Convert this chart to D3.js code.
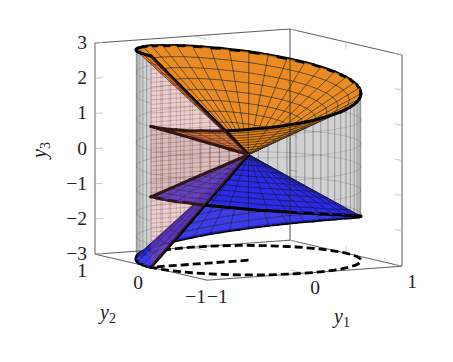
<!DOCTYPE html>
<html>
<head>
<meta charset="utf-8">
<script src="https://d3js.org/d3.v7.min.js"></script>
<style>
  html, body { margin: 0; padding: 0; background: #fff; }
  text { font-family: "Liberation Serif", serif; fill: #222; }
</style>
</head>
<body>
<div id="chart-container"></div>
<script>
// --- 1. DATA ---
const angles = d3.range(-180, 181, 5); // polar angle of (y1, y2), degrees
// height of the upper sheet on the unit circle, one value per angle
const rimHeights = [
  1.00, 1.00, 1.00, 1.01, 1.02, 1.02, 1.03, 1.05, 1.06, 1.07, 1.09, 1.11, 1.13,
  1.16, 1.18, 1.20, 1.23, 1.26, 1.29, 1.32, 1.36, 1.39, 1.43, 1.46, 1.50, 1.54,
  1.58, 1.62, 1.66, 1.70, 1.74, 1.78, 1.83, 1.87, 1.91, 1.96, 2.00, 2.04, 2.09,
  2.13, 2.17, 2.22, 2.26, 2.30, 2.34, 2.38, 2.42, 2.46, 2.50, 2.54, 2.57, 2.61,
  2.64, 2.68, 2.71, 2.74, 2.77, 2.79, 2.82, 2.84, 2.87, 2.89, 2.91, 2.92, 2.94,
  2.95, 2.97, 2.97, 2.98, 2.99, 3.00, 3.00, 3.00
];
const radii = [0, 0.1, 0.2, 0.3, 0.4, 0.5, 0.6, 0.7, 0.8, 0.9, 1];
const cylinderLevels = [-3, -2.33, -1.67, -1, -0.33, 0.33, 1, 1.67, 2.33, 3];
const slitLevels = d3.range(-3, 3.01, 0.125);
const y1Ticks = [-1, 0, 1];
const y2Ticks = [-1, 0, 1];
const y3Ticks = [-3, -2, -1, 0, 1, 2, 3];

// --- 2. SETUP ---
const totalWidth = 453;
const totalHeight = 362;

const svg = d3
  .select("#chart-container")
  .append("svg")
  .attr("width", totalWidth)
  .attr("height", totalHeight);

// pgfplots-like oblique view: each data axis adds its own screen offset
const y1X = d3.scaleLinear().domain([-1, 1]).range([-97.5, 97.5]);
const y2X = d3.scaleLinear().domain([-1, 1]).range([56, -56]);
const y1Y = d3.scaleLinear().domain([-1, 1]).range([7, -7]);
const y2Y = d3.scaleLinear().domain([-1, 1]).range([13, -13]);
const y3Y = d3.scaleLinear().domain([-3, 3]).range([105.6, -105.6]);
const originX = 248.5;
const originY = 154.6;

const project = ([a, b, c]) => [
  originX + y1X(a) + y2X(b),
  originY + y1Y(a) + y2Y(b) + y3Y(c),
];
const depth = ([a, b, c]) => -1971 * a - 3432 * b + 1660 * c;
const toPath = (pts) => "M" + pts.map((p) => project(p).join(",")).join("L") + "Z";
const openPath = (pts) => "M" + pts.map((p) => project(p).join(",")).join("L");
const polar = (r, i, h) => {
  const t = (angles[i] * Math.PI) / 180;
  return [r * Math.cos(t), r * Math.sin(t), h];
};

// --- 3. BOX AND TICKS ---
const axisG = svg.append("g");
const boxEdges = [
  [[-1, 1, 3], [1, 1, 3], [1, -1, 3]],
  [[-1, 1, -3], [-1, 1, 3]],
  [[1, -1, -3], [1, -1, 3]],
  [[-1, 1, -3], [1, 1, -3], [1, -1, -3]],
  [[-1, 1, -3], [-1, -1, -3], [1, -1, -3]],
];
axisG
  .selectAll("path.box")
  .data(boxEdges)
  .enter()
  .append("path")
  .attr("d", openPath)
  .attr("fill", "none")
  .attr("stroke", "#333")
  .attr("stroke-width", 0.8);

// short light ticks pointing into the box
const tickSegs = [];
const tickLen = 0.08;
y3Ticks.forEach((v) => {
  tickSegs.push([[-1, 1, v], [-1 + tickLen, 1, v]]);
  tickSegs.push([[1, -1, v], [1, -1 + tickLen * 1.6, v]]);
  tickSegs.push([[1, 1, v], [1, 1 - tickLen * 1.6, v]]);
});
y1Ticks.slice(1, 2).forEach((v) => {
  tickSegs.push([[v, -1, -3], [v, -1 + 0.25, -3]]);
  tickSegs.push([[v, 1, -3], [v, 1 - 0.25, -3]]);
  tickSegs.push([[v, 1, 3], [v, 1 - 0.25, 3]]);
});
y2Ticks.slice(1, 2).forEach((v) => {
  tickSegs.push([[-1, v, -3], [-1 + 0.1, v, -3]]);
  tickSegs.push([[1, v, -3], [1, v, -3 + 0.2]]);
  tickSegs.push([[1, v, 3], [1, v, 3 - 0.2]]);
});
axisG
  .selectAll("path.tick")
  .data(tickSegs)
  .enter()
  .append("path")
  .attr("d", openPath)
  .attr("fill", "none")
  .attr("stroke", "#bbb")
  .attr("stroke-width", 0.8);

// --- 4. FLOOR SHADOW (dashed, below the surfaces) ---
const floorPts = [[0, 0, -3]].concat(angles.map((_, i) => polar(1, i, -3)));
svg
  .append("path")
  .attr("d", openPath(floorPts))
  .attr("fill", "none")
  .attr("stroke", "#000")
  .attr("stroke-width", 2.8)
  .attr("stroke-dasharray", "8,4");

// --- 5. SURFACE PATCHES, one layer per surface, back to front inside it ---
const layerOrder = { gray: 0, blue: 1, orange: 2, rays: 3, pink: 4 };
const items = [];
const addQuad = (pts, kind) => {
  items.push({ pts, kind, layer: layerOrder[kind], z: d3.mean(pts, depth) });
};

// the two cone sheets, every second angle
for (let i = 0; i + 2 < angles.length; i += 2) {
  for (let k = 0; k + 1 < radii.length; k++) {
    const r0 = radii[k];
    const r1 = radii[k + 1];
    [1, -1].forEach((s) => {
      addQuad(
        [
          polar(r0, i, s * r0 * rimHeights[i]),
          polar(r1, i, s * r1 * rimHeights[i]),
          polar(r1, i + 2, s * r1 * rimHeights[i + 2]),
          polar(r0, i + 2, s * r0 * rimHeights[i + 2]),
        ],
        s > 0 ? "orange" : "blue"
      );
    });
  }
}

// gray cylinder between the two rims
for (let i = 0; i + 1 < angles.length; i++) {
  for (let k = 0; k + 1 < cylinderLevels.length; k++) {
    const lo = cylinderLevels[k];
    const hi = cylinderLevels[k + 1];
    const m0 = rimHeights[i];
    const m1 = rimHeights[i + 1];
    if (lo >= Math.max(m0, m1) || hi <= -Math.max(m0, m1)) continue;
    const clamp = (v, m) => Math.max(-m, Math.min(m, v));
    addQuad(
      [
        polar(1, i, clamp(lo, m0)),
        polar(1, i, clamp(hi, m0)),
        polar(1, i + 1, clamp(hi, m1)),
        polar(1, i + 1, clamp(lo, m1)),
      ],
      "gray"
    );
  }
}

// pink wedge in the slit y2 = 0, y1 < 0
for (let k = 0; k + 1 < radii.length; k++) {
  const r0 = radii[k];
  const r1 = radii[k + 1];
  for (let j = 0; j + 1 < slitLevels.length; j++) {
    const lo = slitLevels[j];
    const hi = slitLevels[j + 1];
    if (lo >= 3 * r1 || hi <= -3 * r1) continue;
    const clamp = (v, m) => Math.max(-m, Math.min(m, v));
    addQuad(
      [
        [-r0, 0, clamp(lo, 3 * r0)],
        [-r1, 0, clamp(lo, 3 * r1)],
        [-r1, 0, clamp(hi, 3 * r1)],
        [-r0, 0, clamp(hi, 3 * r0)],
      ],
      "pink"
    );
  }
}

// thick outlines: rims stay in their sheet, the slit rays go over both sheets
const addLine = (pts, layer) => {
  for (let i = 0; i + 1 < pts.length; i++) {
    const seg = [pts[i], pts[i + 1]];
    items.push({ pts: seg, kind: "edge", layer, z: d3.mean(seg, depth) });
  }
};
addLine(angles.map((_, i) => polar(1, i, rimHeights[i])), layerOrder.orange);
addLine(angles.map((_, i) => polar(1, i, -rimHeights[i])), layerOrder.blue);
const last = angles.length - 1;
[
  [0, rimHeights[0]],
  [0, -rimHeights[0]],
  [last, rimHeights[last]],
  [last, -rimHeights[last]],
].forEach(([i, h]) => {
  addLine(radii.map((r) => polar(r, i, r * h)), layerOrder.rays);
});

const styles = {
  orange: { fill: "#ea8312", op: 0.92, line: "#222", lw: 0.6, lop: 0.8 },
  blue: { fill: "#2a2ae8", op: 0.9, line: "#14143a", lw: 0.6, lop: 0.8 },
  gray: { fill: "#000", op: 0.095, line: "#666", lw: 0.4, lop: 0.35 },
  pink: { fill: "#ff6868", op: 0.19, line: "#633", lw: 0.35, lop: 0.4 },
};

items.sort((p, q) => d3.ascending(p.layer, q.layer) || d3.ascending(p.z, q.z));

const patchG = svg.append("g");
patchG
  .selectAll("path")
  .data(items)
  .enter()
  .append("path")
  .attr("d", (d) => (d.kind === "edge" ? openPath(d.pts) : toPath(d.pts)))
  .attr("fill", (d) => (d.kind === "edge" ? "none" : styles[d.kind].fill))
  .attr("fill-opacity", (d) => (d.kind === "edge" ? 0 : styles[d.kind].op))
  .attr("stroke", (d) => (d.kind === "edge" ? "#000" : styles[d.kind].line))
  .attr("stroke-width", (d) => (d.kind === "edge" ? 3 : styles[d.kind].lw))
  .attr("stroke-opacity", (d) => (d.kind === "edge" ? 1 : styles[d.kind].lop))
  .attr("stroke-linecap", "round");

// back vertical edge shows through the surfaces
svg
  .append("path")
  .attr("d", openPath([[1, 1, -3], [1, 1, 3]]))
  .attr("fill", "none")
  .attr("stroke", "#222")
  .attr("stroke-width", 0.8);

// --- 6. LABELS ---
const fmt = (v) => (v < 0 ? "\u2212" + Math.abs(v) : String(v));
const labelG = svg.append("g").attr("font-size", 19.5);
labelG
  .selectAll("text.y3")
  .data(y3Ticks)
  .enter()
  .append("text")
  .attr("x", 87)
  .attr("y", (d) => project([-1, 1, d])[1] + 6)
  .attr("text-anchor", "end")
  .text(fmt);

const y2Pos = [[82, 277], [138, 289], [206, 303]];
labelG
  .selectAll("text.y2")
  .data(y2Ticks.slice().reverse())
  .enter()
  .append("text")
  .attr("x", (d, i) => y2Pos[i][0])
  .attr("y", (d, i) => y2Pos[i][1])
  .attr("text-anchor", (d, i) => (i === 2 ? "end" : "middle"))
  .text(fmt);

const y1Pos = [[207, 303], [315, 294], [412, 288]];
labelG
  .selectAll("text.y1")
  .data(y1Ticks)
  .enter()
  .append("text")
  .attr("x", (d, i) => y1Pos[i][0])
  .attr("y", (d, i) => y1Pos[i][1])
  .attr("text-anchor", (d, i) => (i === 0 ? "start" : "middle"))
  .text(fmt);

const axisLabel = (x, y, sub, rot) => {
  const t = svg
    .append("text")
    .attr("transform", `translate(${x},${y}) rotate(${rot})`)
    .attr("text-anchor", "middle")
    .attr("font-size", 20)
    .attr("font-style", "italic");
  t.append("tspan").text("y");
  t.append("tspan").attr("font-size", 14).attr("font-style", "normal").attr("dy", 4).text(sub);
};
axisLabel(108, 319, "2", 0);
axisLabel(342, 323, "1", 0);
axisLabel(46, 150, "3", -90);
</script>
</body>
</html>
